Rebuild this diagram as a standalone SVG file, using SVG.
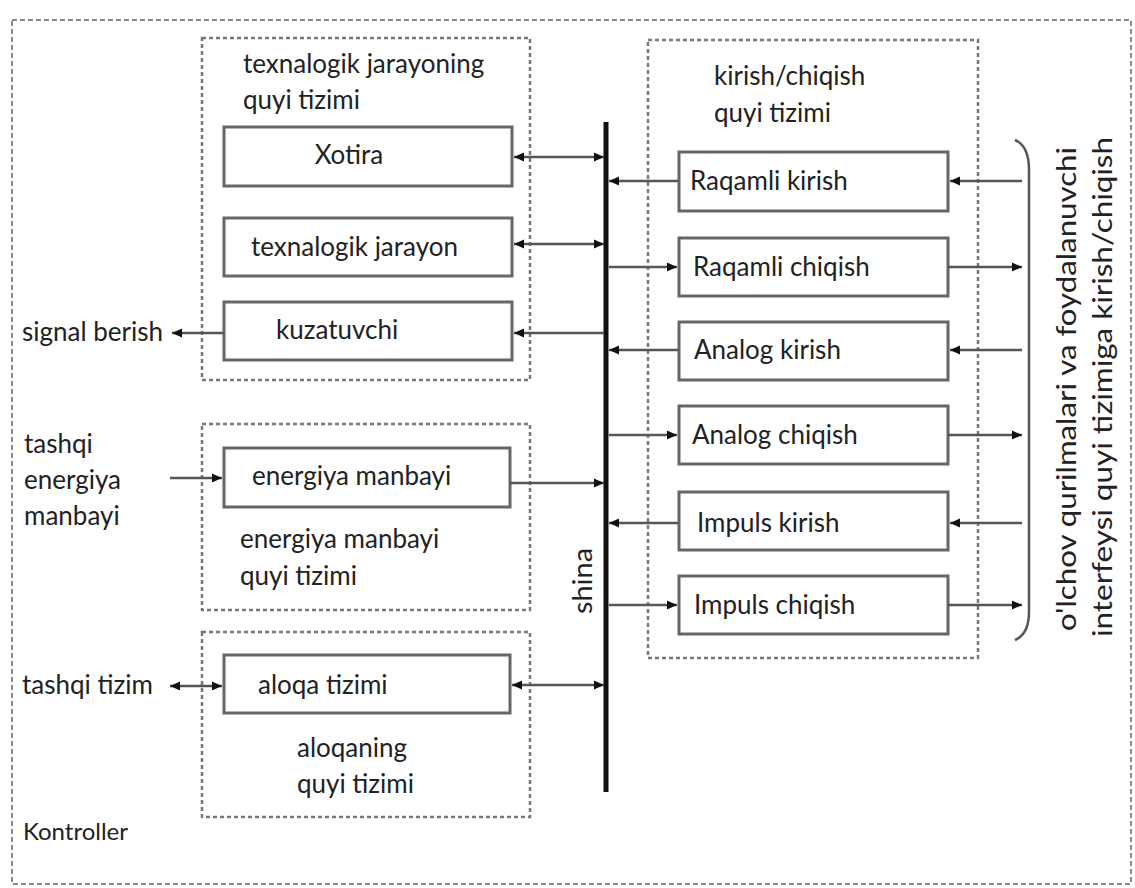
<svg xmlns="http://www.w3.org/2000/svg" width="1135" height="888" viewBox="0 0 1135 888">
  <style>
    .frame { fill: none; stroke: #8a8a8a; stroke-width: 2; stroke-dasharray: 5 3; }
    .sub { fill: none; stroke: #777; stroke-width: 2.5; stroke-dasharray: 4 3; }
    .box { fill: #fff; stroke: #666; stroke-width: 3; }
    .lbl { font-family: Lato, "Open Sans", sans-serif; font-size: 26px; fill: #222; }
    .wire { fill: none; stroke: #555; stroke-width: 2.5; }
    .bus { stroke: #111; stroke-width: 5; }
  </style>
  <defs>
    <marker id="ah" viewBox="0 0 10 10" refX="10" refY="5" markerWidth="11" markerHeight="10" orient="auto-start-reverse" markerUnits="userSpaceOnUse">
      <path d="M0,0.5 L10,5 L0,9.5 Z" fill="#111"/>
    </marker>
  </defs>

  <rect width="1135" height="888" fill="#fff"/>

  <!-- controller boundary -->
  <g id="kontroller">
    <rect class="frame" x="12" y="20" width="1119" height="864"/>
    <text class="lbl" x="23" y="840" style="font-size:24px">Kontroller</text>
  </g>

  <!-- technological process subsystem -->
  <g id="sub-texnalogik">
    <rect class="sub" x="202" y="38" width="328" height="342"/>
    <text class="lbl" x="243" y="73">texnalogik jarayoning</text>
    <text class="lbl" x="243" y="109">quyi tizimi</text>
  </g>
  <g id="xotira">
    <rect class="box" x="224" y="127" width="288" height="59"/>
    <text class="lbl" x="349" y="164" text-anchor="middle">Xotira</text>
  </g>
  <g id="texnalogik-jarayon">
    <rect class="box" x="224" y="218" width="288" height="58"/>
    <text class="lbl" x="251" y="256">texnalogik jarayon</text>
  </g>
  <g id="kuzatuvchi">
    <rect class="box" x="224" y="302" width="288" height="58"/>
    <text class="lbl" x="276" y="339">kuzatuvchi</text>
  </g>
  <g id="signal-berish">
    <text class="lbl" x="22" y="341">signal berish</text>
  </g>

  <!-- power subsystem -->
  <g id="sub-energiya">
    <rect class="sub" x="202" y="424" width="328" height="186"/>
    <text class="lbl" x="240" y="548">energiya manbayi</text>
    <text class="lbl" x="240" y="585">quyi tizimi</text>
  </g>
  <g id="energiya-manbayi">
    <rect class="box" x="224" y="448" width="286" height="59"/>
    <text class="lbl" x="252" y="485">energiya manbayi</text>
  </g>
  <g id="tashqi-energiya">
    <text class="lbl" x="24" y="453">tashqi</text>
    <text class="lbl" x="24" y="489">energiya</text>
    <text class="lbl" x="24" y="525">manbayi</text>
  </g>

  <!-- communication subsystem -->
  <g id="sub-aloqa">
    <rect class="sub" x="202" y="632" width="328" height="185"/>
    <text class="lbl" x="297" y="757">aloqaning</text>
    <text class="lbl" x="297" y="793">quyi tizimi</text>
  </g>
  <g id="aloqa-tizimi">
    <rect class="box" x="224" y="655" width="286" height="58"/>
    <text class="lbl" x="258" y="694">aloqa tizimi</text>
  </g>
  <g id="tashqi-tizim">
    <text class="lbl" x="22" y="694">tashqi tizim</text>
  </g>

  <!-- bus -->
  <g id="shina">
    <line class="bus" x1="606" y1="122" x2="606" y2="792"/>
    <text class="lbl" transform="translate(592,581) rotate(-90)" text-anchor="middle" textLength="66" lengthAdjust="spacingAndGlyphs">shina</text>
  </g>

  <!-- input/output subsystem -->
  <g id="sub-kirish-chiqish">
    <rect class="sub" x="648" y="40" width="330" height="618"/>
    <text class="lbl" x="714" y="85">kirish/chiqish</text>
    <text class="lbl" x="714" y="122">quyi tizimi</text>
  </g>
  <g id="raqamli-kirish">
    <rect class="box" x="679" y="152" width="269" height="59"/>
    <text class="lbl" x="690" y="190">Raqamli kirish</text>
  </g>
  <g id="raqamli-chiqish">
    <rect class="box" x="679" y="238" width="269" height="58"/>
    <text class="lbl" x="693" y="276">Raqamli chiqish</text>
  </g>
  <g id="analog-kirish">
    <rect class="box" x="679" y="322" width="269" height="58"/>
    <text class="lbl" x="694" y="359">Analog kirish</text>
  </g>
  <g id="analog-chiqish">
    <rect class="box" x="679" y="406" width="269" height="58"/>
    <text class="lbl" x="692" y="444">Analog chiqish</text>
  </g>
  <g id="impuls-kirish">
    <rect class="box" x="679" y="492" width="269" height="58"/>
    <text class="lbl" x="697" y="532">Impuls kirish</text>
  </g>
  <g id="impuls-chiqish">
    <rect class="box" x="679" y="576" width="269" height="58"/>
    <text class="lbl" x="694" y="614">Impuls chiqish</text>
  </g>

  <!-- field devices and user interface -->
  <g id="interfeys">
    <path class="wire" d="M1015,140 Q1029,146 1029,170 L1029,612 Q1029,634 1015,640"/>
    <text class="lbl" transform="translate(1076,389) rotate(-90)" text-anchor="middle" textLength="484" lengthAdjust="spacingAndGlyphs">o'lchov qurilmalari va foydalanuvchi</text>
    <text class="lbl" transform="translate(1112,387) rotate(-90)" text-anchor="middle" textLength="500" lengthAdjust="spacingAndGlyphs">interfeysi quyi tizimiga kirish/chiqish</text>
  </g>

  <!-- connectors -->
  <g id="connectors">
    <line class="wire" x1="514" y1="157" x2="604" y2="157" marker-start="url(#ah)" marker-end="url(#ah)"/>
    <line class="wire" x1="514" y1="244" x2="604" y2="244" marker-start="url(#ah)" marker-end="url(#ah)"/>
    <line class="wire" x1="604" y1="333" x2="514" y2="333" marker-end="url(#ah)"/>
    <line class="wire" x1="224" y1="333" x2="172" y2="333" marker-end="url(#ah)"/>
    <line class="wire" x1="170" y1="478" x2="222" y2="478" marker-end="url(#ah)"/>
    <line class="wire" x1="510" y1="483" x2="604" y2="483" marker-end="url(#ah)"/>
    <line class="wire" x1="170" y1="686" x2="222" y2="686" marker-start="url(#ah)" marker-end="url(#ah)"/>
    <line class="wire" x1="512" y1="685" x2="604" y2="685" marker-start="url(#ah)" marker-end="url(#ah)"/>

    <line class="wire" x1="679" y1="181" x2="609" y2="181" marker-end="url(#ah)"/>
    <line class="wire" x1="609" y1="267" x2="677" y2="267" marker-end="url(#ah)"/>
    <line class="wire" x1="679" y1="350" x2="609" y2="350" marker-end="url(#ah)"/>
    <line class="wire" x1="609" y1="435" x2="677" y2="435" marker-end="url(#ah)"/>
    <line class="wire" x1="679" y1="523" x2="609" y2="523" marker-end="url(#ah)"/>
    <line class="wire" x1="609" y1="605" x2="677" y2="605" marker-end="url(#ah)"/>

    <line class="wire" x1="1022" y1="181" x2="950" y2="181" marker-end="url(#ah)"/>
    <line class="wire" x1="948" y1="267" x2="1022" y2="267" marker-end="url(#ah)"/>
    <line class="wire" x1="1022" y1="350" x2="950" y2="350" marker-end="url(#ah)"/>
    <line class="wire" x1="948" y1="435" x2="1022" y2="435" marker-end="url(#ah)"/>
    <line class="wire" x1="1022" y1="523" x2="950" y2="523" marker-end="url(#ah)"/>
    <line class="wire" x1="948" y1="605" x2="1022" y2="605" marker-end="url(#ah)"/>
  </g>
</svg>
